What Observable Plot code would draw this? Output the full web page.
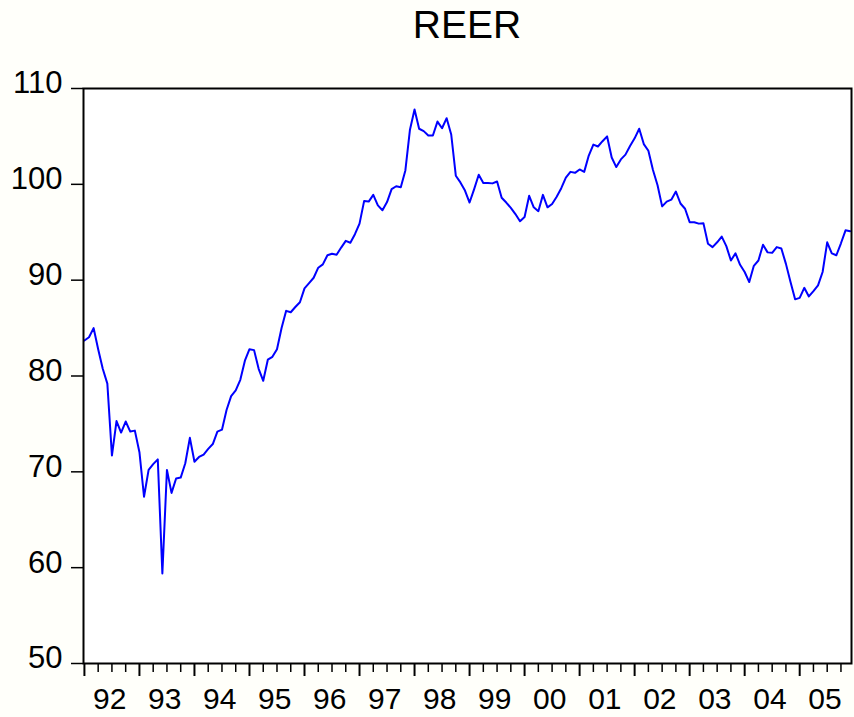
<!DOCTYPE html>
<html>
<head>
<meta charset="utf-8">
<script src="https://cdn.jsdelivr.net/npm/d3@7"></script>
<script src="https://cdn.jsdelivr.net/npm/@observablehq/plot@0.6"></script>
<style>
  html, body { margin: 0; padding: 0; background: #fffffa; }
  #wrap { width: 854px; height: 717px; overflow: hidden; }
  #title {
    box-sizing: border-box; width: 854px; height: 50px;
    padding-left: 83px; padding-right: 3px;
    font-family: "Liberation Sans", Arial, sans-serif; font-size: 39px;
    line-height: 50px; text-align: center; color: #000;
  }
  svg { display: block; }
</style>
</head>
<body>
<div id="wrap">
  <div id="title">REER</div>
  <div id="chart"></div>
</div>
<script>
// Monthly observations, 1992M01 – 2005M12
const yearLabels = ["92","93","94","95","96","97","98","99","00","01","02","03","04","05"];
const yTicks = [50, 60, 70, 80, 90, 100, 110];
const reer = [
  83.7, 84.05, 85.0, 82.8, 80.75, 79.2, 71.7, 75.3, 74.1, 75.25, 74.2, 74.3,      // 1992
  72.05, 67.4, 70.2, 70.8, 71.3, 59.4, 70.2, 67.8, 69.3, 69.4, 70.9, 73.55,       // 1993
  71.05, 71.55, 71.8, 72.4, 72.9, 74.2, 74.4, 76.45, 77.9, 78.5, 79.6, 81.6,      // 1994
  82.8, 82.7, 80.75, 79.5, 81.7, 82.0, 82.8, 85.0, 86.8, 86.65, 87.2, 87.7,       // 1995
  89.15, 89.7, 90.25, 91.3, 91.65, 92.6, 92.75, 92.65, 93.4, 94.1, 93.9, 94.8,    // 1996
  95.9, 98.25, 98.2, 98.9, 97.8, 97.3, 98.15, 99.5, 99.8, 99.7, 101.45, 105.7,    // 1997
  107.8, 105.8, 105.55, 105.1, 105.1, 106.55, 105.85, 106.9, 105.2, 100.9, 100.2, 99.35, // 1998
  98.1, 99.5, 101.0, 100.15, 100.15, 100.1, 100.3, 98.6, 98.1, 97.55, 96.9, 96.15, // 1999
  96.6, 98.8, 97.6, 97.2, 98.9, 97.6, 97.95, 98.7, 99.6, 100.7, 101.3, 101.2,     // 2000
  101.55, 101.3, 103.0, 104.15, 103.95, 104.5, 105.0, 102.8, 101.8, 102.6, 103.1, 104.0, // 2001
  104.8, 105.8, 104.2, 103.5, 101.5, 99.9, 97.7, 98.2, 98.4, 99.25, 98.0, 97.45,  // 2002
  96.05, 96.05, 95.9, 95.95, 93.8, 93.45, 93.95, 94.55, 93.55, 92.05, 92.8, 91.6, // 2003
  90.85, 89.8, 91.5, 92.05, 93.7, 92.9, 92.85, 93.45, 93.3, 91.7, 89.8, 88.0,     // 2004
  88.15, 89.2, 88.3, 88.85, 89.45, 90.85, 93.95, 92.8, 92.6, 93.85, 95.2, 95.1    // 2005
];

const data = reer.map((v, i) => ({ i, v }));
const majorTicks = yearLabels.map((_, k) => k * 12);
const minorTicks = d3.range(0, reer.length, 3).filter(i => i % 12 !== 0);
const labelPos = yearLabels.map((_, k) => k * 12 + 5.5);

const chart = Plot.plot({
  width: 854,
  height: 667,
  marginLeft: 83,
  marginRight: 3,
  marginTop: 38,
  marginBottom: 54,
  style: { background: "transparent", fontFamily: "'Liberation Sans', Arial, sans-serif", color: "black" },
  x: { domain: [-0.2, 167.3] },
  y: { domain: [50, 110] },
  marks: [
    Plot.frame({ fill: "white" }),
    Plot.line(data, { x: "i", y: "v", stroke: "#0000ff", strokeWidth: 2 }),
    Plot.frame({ stroke: "black", strokeWidth: 2 }),
    Plot.axisY({ ticks: yTicks, tickSize: 12, tickFormat: () => "", strokeWidth: 1.5, label: null }),
    Plot.axisY({ ticks: yTicks, tickSize: 0, tickPadding: 21, fontSize: 31, dy: -5, label: null }),
    Plot.axisX({ ticks: majorTicks, tickSize: 13, tickFormat: () => "", strokeWidth: 2, label: null }),
    Plot.axisX({ ticks: minorTicks, tickSize: 9, tickFormat: () => "", strokeWidth: 1.5, label: null }),
    Plot.axisX({ ticks: labelPos, tickSize: 0, tickPadding: 24,
      tickFormat: d => yearLabels[Math.round((d - 5.5) / 12)], fontSize: 30, label: null })
  ]
});
document.getElementById("chart").appendChild(chart);
</script>
</body>
</html>
